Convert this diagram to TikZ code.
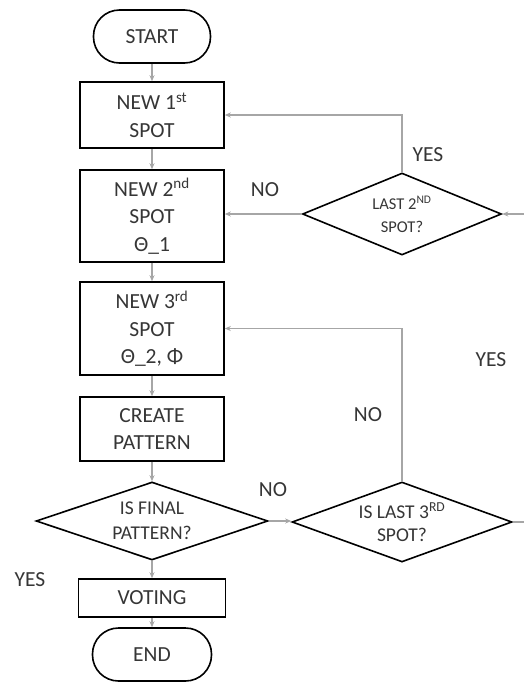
\documentclass[tikz,border=0pt]{standalone}
\usepackage{fontspec}
\setmainfont{Carlito}
\usetikzlibrary{shapes.geometric,arrows.meta}
\definecolor{txt}{HTML}{363636}
\definecolor{conn}{HTML}{A6A6A6}

\begin{document}
\begin{tikzpicture}[x=1pt,y=-1pt,
  every node/.style={text=txt, font=\fontsize{21.5}{27.5}\selectfont, align=center},
  boxnode/.style={draw=black, line width=1.6pt, rectangle, minimum width=144pt, inner sep=0pt},
  termnode/.style={draw=black, line width=1.6pt, rectangle, rounded corners=26pt,
                   minimum width=117pt, minimum height=53pt, inner sep=0pt},
  % empty diamond outline; its question sits in a centred label
  decnode/.style={draw=black, line width=1.6pt, diamond, inner sep=0pt},
  link/.style={draw=conn, line width=1.2pt},
  flow/.style={link, -{Stealth[length=6pt,width=5pt]}},
  lbl/.style={text=txt, font=\fontsize{21.5}{25}\selectfont}
]
\useasboundingbox (0,0) rectangle (524,683);
\fill[white] (0,0) rectangle (524,683);

% main column
\node[termnode] (start) at (152,36.5) {START};
\node[boxnode, minimum height=66pt] (new1) at (152,115) {NEW 1\textsuperscript{st}\\SPOT};
\node[boxnode, minimum height=92pt] (new2) at (152,216) {NEW 2\textsuperscript{nd}\\SPOT\\Θ\_1};
\node[boxnode, minimum height=93pt] (new3) at (152,328.5) {NEW 3\textsuperscript{rd}\\SPOT\\Θ\_2, Φ};
\node[boxnode, minimum height=64pt] (create) at (152,429) {CREATE\\PATTERN};
\node[decnode, minimum width=232pt, minimum height=78pt,
      label={[font=\fontsize{19.5}{25}\selectfont]center:IS FINAL\\PATTERN?}]
      (final) at (152,521) {};
\node[boxnode, minimum width=147pt, minimum height=38pt] (voting) at (152,598) {VOTING};
\node[termnode, minimum width=119pt] (end) at (152,654.5) {END};

% decision column
\node[decnode, minimum width=199pt, minimum height=82pt,
      label={[font=\fontsize{16.5}{23}\selectfont]center:LAST 2\textsuperscript{ND}\\SPOT?}]
      (last2) at (402,214) {};
\node[decnode, minimum width=220pt, minimum height=80pt,
      label={[font=\fontsize{19.5}{23}\selectfont]center:IS LAST 3\textsuperscript{RD}\\SPOT?}]
      (last3) at (402,522) {};

\coordinate (in2) at (524,214);
\coordinate (out3) at (524,522);

% main flow
\draw[flow] (start.south) -- (new1.north);
\draw[flow] (new1.south) -- (new2.north);
\draw[flow] (new2.south) -- (new3.north);
\draw[flow] (new3.south) -- (create.north);
\draw[flow] (create.south) -- (final.north);
\draw[flow] (final.south) -- (voting.north);
\draw[flow] (voting.south) -- (end.north);

% loops back
\draw[flow] (last2.west) -- (new2.east |- last2.west);
\draw[flow] (last2.north) |- (new1.east);
\draw[flow] (final.east) -- (last3.west |- final.east);
\draw[flow] (last3.north) |- (new3.east);
\draw[link] (last3.east) -- (out3);
\draw[flow] (in2) -- (last2.east);

% branch labels
\node[lbl] (yes2) at (428,155) {YES};
\node[lbl] (no2) at (265,190) {NO};
\node[lbl] (yes3) at (491,360) {YES};
\node[lbl] (no3) at (368,415) {NO};
\node[lbl] (nofin) at (273,490) {NO};
\node[lbl] (yesfin) at (30,580) {YES};
\end{tikzpicture}
\end{document}
